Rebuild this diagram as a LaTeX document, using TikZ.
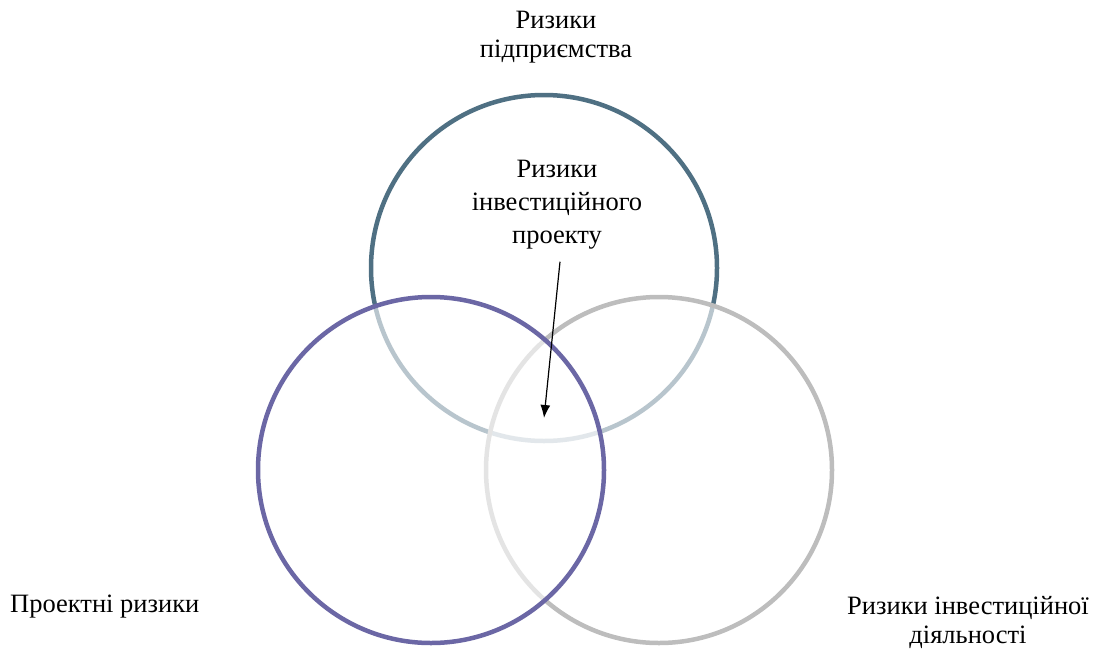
\documentclass[tikz,border=0pt]{standalone}
\usepackage{fontspec}
\setmainfont{Liberation Serif}
\usepackage{xcolor}
\usetikzlibrary{arrows.meta,positioning}

\definecolor{pidprcol}{HTML}{4F7083}
\definecolor{proektcol}{HTML}{6B67A5}
\definecolor{diyalcol}{HTML}{BDBDBD}

\begin{document}
\begin{tikzpicture}[x=1pt,y=-1pt]
        \tikzstyle{every node}+=[inner sep=0pt]
        \tikzstyle{kolo}=[circle,minimum size=346pt,line width=4.5pt,fill=white,fill opacity=0.6,draw opacity=1]
        \tikzstyle{napys}=[font=\fontsize{26.5}{29}\selectfont,align=center]
        \useasboundingbox (0,0) rectangle (1094,648);
        % three circles: top first, then right, then left
        \node [kolo,draw=pidprcol] (pidpr) at (544,268) {};
        \node [kolo,draw=diyalcol] (diyal) at (659,470) {};
        \node [kolo,draw=proektcol] (proekt) at (431,470) {};
        % labels
        \node [napys] (pidprlab) at (556,37) {Ризики\\підприємства};
        \node [napys,font=\fontsize{26.5}{33}\selectfont] (projlab) at (557,205) {Ризики\\інвестиційного\\проекту};
        \node [napys,anchor=west] (proektlab) at (10,607) {Проектні ризики};
        \node [napys] (diyallab) at (968,622) {Ризики інвестиційної\\діяльності};
        % arrow to the common part
        \coordinate (core) at (544,418);
        \draw [black,line width=1.2pt,-{Latex[length=13pt,width=10pt]}] ([xshift=3pt,yshift=-12pt]projlab.south) -- (core);
\end{tikzpicture}
\end{document}
